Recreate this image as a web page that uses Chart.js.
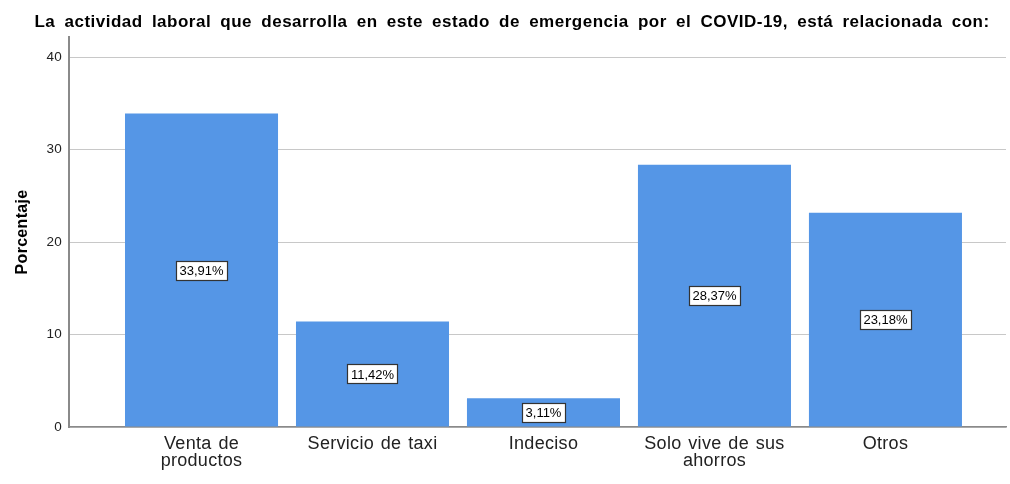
<!DOCTYPE html>
<html>
<head>
<meta charset="utf-8">
<script src="https://cdn.jsdelivr.net/npm/chart.js@4/dist/chart.umd.min.js"></script>
<style>
  body { margin: 0; background: #fff; }
  #wrap { width: 1010px; height: 484px; }
</style>
</head>
<body>
<div id="wrap"><canvas id="actividadChart"></canvas></div>
<script>
// Datos del gráfico
const categorias = [['Venta de', 'productos'], 'Servicio de taxi', 'Indeciso', ['Solo vive de sus', 'ahorros'], 'Otros'];
const porcentajes = [33.91, 11.42, 3.11, 28.37, 23.18];
const etiquetas = ['33,91%', '11,42%', '3,11%', '28,37%', '23,18%'];
const ticksY = [0, 10, 20, 30, 40];
const titulo = 'La actividad laboral que desarrolla en este estado de emergencia por el COVID-19, está relacionada con:';

const FUENTE = '"Liberation Sans", Arial, sans-serif';

// espaciado de texto como en el original
const espaciado = {
  id: 'espaciado',
  beforeDraw(chart) {
    chart.ctx.letterSpacing = '0.3px';
    chart.ctx.wordSpacing = '1.5px';
  }
};

// título dibujado a mano (texto algo más espaciado)
const tituloPlugin = {
  id: 'tituloPlugin',
  afterDraw(chart) {
    const ctx = chart.ctx;
    ctx.save();
    ctx.letterSpacing = '0.5px';
    ctx.wordSpacing = '4px';
    ctx.font = 'bold 17px ' + FUENTE;
    ctx.fillStyle = '#000';
    ctx.textAlign = 'center';
    ctx.textBaseline = 'middle';
    ctx.fillText(titulo, 512, 22);
    ctx.restore();
  }
};

// etiqueta con recuadro blanco en el centro de cada barra
const etiquetasBarras = {
  id: 'etiquetasBarras',
  afterDatasetsDraw(chart) {
    const ctx = chart.ctx;
    const meta = chart.getDatasetMeta(0);
    ctx.save();
    ctx.letterSpacing = '0px';
    ctx.font = '13px ' + FUENTE;
    ctx.textAlign = 'center';
    ctx.textBaseline = 'middle';
    meta.data.forEach((bar, i) => {
      const txt = etiquetas[i];
      const cy = (bar.y + bar.base) / 2;
      const w = Math.round(ctx.measureText(txt).width + 7);
      const h = 19;
      const x0 = Math.round(bar.x - w / 2) + 0.5;
      const y0 = Math.round(cy - h / 2) + 0.5;
      ctx.fillStyle = '#fff';
      ctx.fillRect(x0, y0, w, h);
      ctx.strokeStyle = '#333';
      ctx.lineWidth = 1.2;
      ctx.strokeRect(x0, y0, w, h);
      ctx.fillStyle = '#000';
      ctx.fillText(txt, bar.x, cy + 1);
    });
    ctx.restore();
  }
};

const ctx = document.getElementById('actividadChart').getContext('2d');
new Chart(ctx, {
  type: 'bar',
  data: {
    datasets: [{
      label: 'Porcentaje',
      data: porcentajes.map((v, i) => ({ x: i, y: v })),
      backgroundColor: '#5596e6',
      borderWidth: 0,
      categoryPercentage: 1,
      barPercentage: 0.895
    }]
  },
  options: {
    responsive: true,
    maintainAspectRatio: false,
    animation: false,
    layout: { padding: { left: 0, right: 4, top: 37, bottom: 0 } },
    plugins: {
      legend: { display: false },
      tooltip: { enabled: false },
      title: { display: false }
    },
    scales: {
      x: {
        type: 'linear',
        offset: false,
        min: -0.775,
        max: 4.705,
        grid: { display: false, drawTicks: false },
        border: { display: true, color: '#8a8a8a', width: 1.5 },
        afterBuildTicks: (scale) => {
          scale.ticks = categorias.map((c, i) => ({ value: i }));
        },
        ticks: {
          color: '#222',
          padding: 8,
          maxRotation: 0,
          autoSkip: false,
          font: { family: FUENTE, size: 18, lineHeight: 0.95 },
          callback: (v) => categorias[v]
        },
        afterFit: (scale) => { scale.height = 57; }
      },
      y: {
        min: 0,
        max: 42.2,
        grid: { color: '#c8c8c8', lineWidth: 1, drawTicks: false },
        border: { display: true, color: '#8a8a8a', width: 2 },
        afterBuildTicks: (scale) => {
          scale.ticks = ticksY.map(v => ({ value: v }));
        },
        ticks: {
          color: '#222',
          padding: 7,
          font: { family: FUENTE, size: 13.5 }
        },
        title: {
          display: true,
          text: 'Porcentaje',
          color: '#000',
          font: { family: FUENTE, size: 16, weight: 'bold' },
          padding: { top: 13, bottom: 0 }
        },
        afterFit: (scale) => { scale.width = 69; }
      }
    }
  },
  plugins: [espaciado, etiquetasBarras, tituloPlugin]
});
</script>
</body>
</html>
